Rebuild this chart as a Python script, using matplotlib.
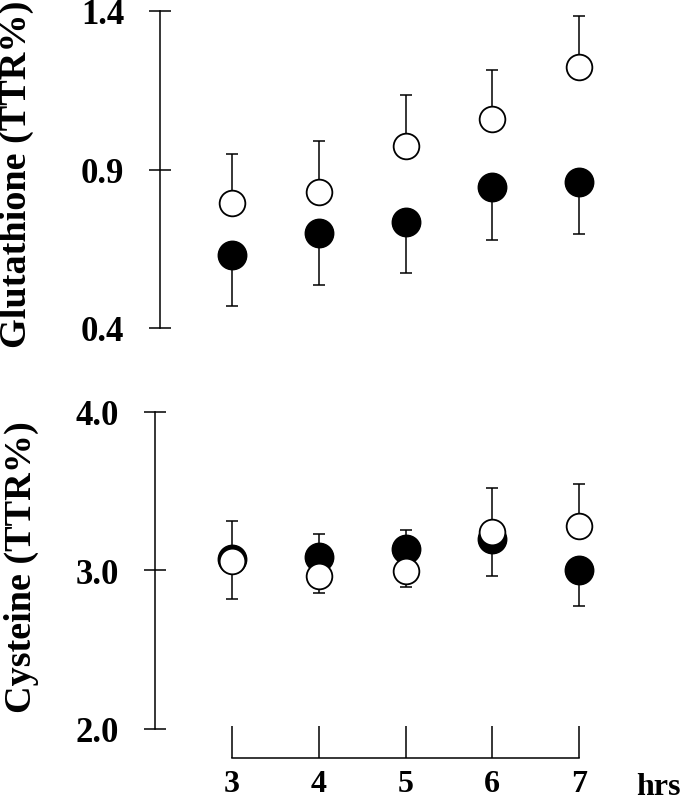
import matplotlib
matplotlib.use("Agg")
import matplotlib.pyplot as plt

hours = [3, 4, 5, 6, 7]
hour_labels = ["3", "4", "5", "6", "7"]

glut_open = [0.793, 0.830, 0.975, 1.059, 1.223]
glut_open_err = [0.156, 0.160, 0.160, 0.154, 0.160]
glut_filled = [0.630, 0.701, 0.733, 0.844, 0.862]
glut_filled_err = [0.162, 0.164, 0.160, 0.166, 0.166]

cys_open = [3.055, 2.961, 2.995, 3.239, 3.281]
cys_open_err = [0.254, 0.267, 0.259, 0.280, 0.263]
cys_filled = [3.070, 3.085, 3.132, 3.197, 3.001]
cys_filled_err = [0.250, 0.229, 0.240, 0.234, 0.225]

glut_ticks = [0.4, 0.9, 1.4]
cys_ticks = [2.0, 3.0, 4.0]

FONT = "Liberation Serif"
plt.rcParams["font.family"] = [FONT, "DejaVu Serif"]
plt.rcParams["font.weight"] = "bold"

W, H = 683, 804
fig = plt.figure(figsize=(W / 100, H / 100), dpi=100)

PX = 86.75  # px per hour

def add_axes(left_px, top_px, bottom_px, xmin):
    xmax = xmin + (622 - left_px) / PX
    ax = fig.add_axes([left_px / W, 1 - bottom_px / H, (622 - left_px) / W, (bottom_px - top_px) / H])
    ax.set_xlim(xmin, xmax)
    return ax

LW = 1.1
# top panel
ax1 = add_axes(160, 12, 329, 3 - 72 / PX)
ax1.set_ylim(0.4, 1.4)
# bottom panel
ax2 = add_axes(155, 412.7, 759, 3 - 77 / PX)
ax2.set_ylim(4.0 - (759 - 412.7) / 158.5, 4.0)

def draw(ax, yo, eo, yf, ef):
    ax.errorbar(hours, yf, yerr=[ef, [0] * len(ef)], fmt="none", ecolor="black",
                elinewidth=LW, capsize=4.3, capthick=LW, zorder=1, clip_on=False)
    ax.errorbar(hours, yo, yerr=[[0] * len(eo), eo], fmt="none", ecolor="black",
                elinewidth=LW, capsize=4.3, capthick=LW, zorder=1, clip_on=False)
    ax.plot(hours, yf, "o", ms=20.5, mfc="black", mec="black", mew=1.0, ls="none",
            zorder=2, clip_on=False)
    ax.plot(hours, yo, "o", ms=18.5, mfc="white", mec="black", mew=1.3, ls="none",
            zorder=3, clip_on=False)

draw(ax1, glut_open, glut_open_err, glut_filled, glut_filled_err)
draw(ax2, cys_open, cys_open_err, cys_filled, cys_filled_err)

TICK_FS = 25
for ax in (ax1, ax2):
    ax.set_facecolor("none")
    for s in ("top", "right"):
        ax.spines[s].set_visible(False)
    ax.spines["left"].set_linewidth(LW)
    ax.tick_params(axis="y", direction="inout", length=16.5, width=LW, pad=17.5)

ax1.spines["bottom"].set_visible(False)
ax1.set_xticks([])
ax1.set_yticks(glut_ticks)
ax1.set_yticklabels([f"{t:.1f}" for t in glut_ticks], fontweight="bold", fontsize=TICK_FS)

ax2.set_yticks(cys_ticks)
ax2.set_yticklabels([f"{t:.1f}" for t in cys_ticks], fontweight="bold", fontsize=TICK_FS)
ax2.spines["left"].set_bounds(2.0, 4.0)
ax2.spines["bottom"].set_linewidth(LW)
ax2.spines["bottom"].set_bounds(3, 7)
ax2.set_xticks(hours)
ax2.set_xticklabels(hour_labels, fontweight="bold", fontsize=23)
ax2.tick_params(axis="x", direction="in", length=23, width=LW, pad=8)

fig.text(16.5 / W, 1 - 174 / H, "Glutathione (TTR%)", rotation=90, ha="center",
         va="center", fontsize=27.5, fontweight="bold")
fig.text(21.5 / W, 1 - 567 / H, "Cysteine (TTR%)", rotation=90, ha="center",
         va="center", fontsize=27.5, fontweight="bold")
fig.text(681 / W, 1 - 788 / H, "hrs", ha="right", va="center", fontsize=23,
         fontweight="bold")

fig.savefig("out.png", dpi=100, facecolor="white")
